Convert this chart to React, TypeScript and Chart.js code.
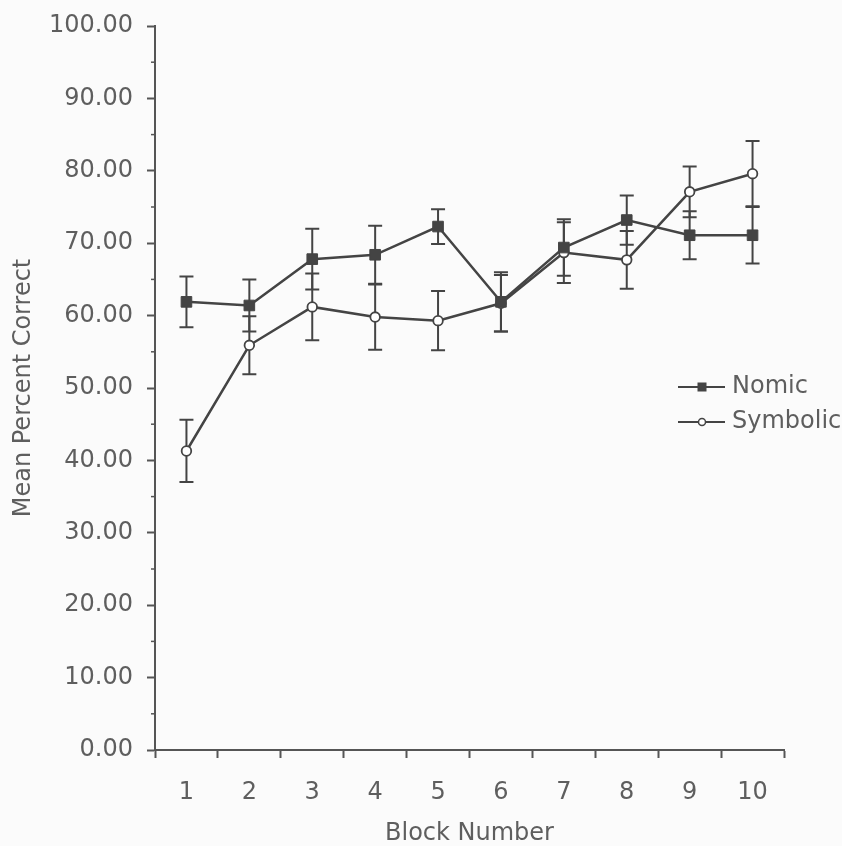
import React, { useEffect, useRef } from 'react';
import { Chart, registerables } from 'chart.js';

Chart.register(...registerables);

// ---- data ----
const blocks = ['1', '2', '3', '4', '5', '6', '7', '8', '9', '10'];
const nomicMeans = [61.9, 61.4, 67.8, 68.4, 72.3, 61.9, 69.4, 73.2, 71.1, 71.1];
const nomicErrors = [3.5, 3.6, 4.2, 4.0, 2.4, 4.1, 3.9, 3.4, 3.3, 3.9];
const symbolicMeans = [41.3, 55.9, 61.2, 59.8, 59.3, 61.7, 68.7, 67.7, 77.1, 79.6];
const symbolicErrors = [4.3, 4.0, 4.6, 4.5, 4.1, 3.9, 4.2, 4.0, 3.5, 4.5];
const seriesNames = ['Nomic', 'Symbolic'];
const xTitle = 'Block Number';
const yTitle = 'Mean Percent Correct';

// ---- styles ----
const FONT = '"DejaVu Sans", Verdana, sans-serif';
const TEXT = '#5e5e5e';
const INK = '#444444';
const AXIS = '#555555';
const BG = '#fbfbfb';
const FS = 24;

const bgPlugin = {
  id: 'bg',
  beforeDraw(chart: any) {
    const { ctx, width, height } = chart;
    ctx.save();
    ctx.fillStyle = BG;
    ctx.fillRect(0, 0, width, height);
    ctx.restore();
  },
};

const errorBarPlugin = {
  id: 'errorBars',
  beforeDatasetsDraw(chart: any) {
    const ctx = chart.ctx;
    const y = chart.scales.y;
    chart.data.datasets.forEach((ds: any, i: number) => {
      const meta = chart.getDatasetMeta(i);
      meta.data.forEach((pt: any, j: number) => {
        const v = ds.data[j];
        const e = ds.errors[j];
        const top = y.getPixelForValue(v + e);
        const bot = y.getPixelForValue(v - e);
        const x = pt.x;
        ctx.save();
        ctx.strokeStyle = INK;
        ctx.lineWidth = 2;
        ctx.beginPath();
        ctx.moveTo(x, top);
        ctx.lineTo(x, bot);
        ctx.moveTo(x - 7, top);
        ctx.lineTo(x + 7, top);
        ctx.moveTo(x - 7, bot);
        ctx.lineTo(x + 7, bot);
        ctx.stroke();
        ctx.restore();
      });
    });
  },
};

const minorTickPlugin = {
  id: 'minorTicks',
  afterDraw(chart: any) {
    const ctx = chart.ctx;
    const y = chart.scales.y;
    const left = chart.chartArea.left;
    ctx.save();
    ctx.strokeStyle = AXIS;
    ctx.lineWidth = 1.5;
    y.ticks.forEach((t: any) => {
      if (t.value % 10 !== 0) {
        const py = y.getPixelForValue(t.value);
        ctx.beginPath();
        ctx.moveTo(left - 4, py);
        ctx.lineTo(left, py);
        ctx.stroke();
      }
    });
    ctx.restore();
  },
};

const legendPlugin = {
  id: 'customLegend',
  afterDraw(chart: any) {
    const ctx = chart.ctx;
    const area = chart.chartArea;
    const x0 = area.right - 106;
    const y0 = (area.top + area.bottom) / 2 - 1;
    const gap = 35;
    ctx.save();
    chart.data.datasets.forEach((ds: any, i: number) => {
      const yy = y0 + i * gap;
      ctx.strokeStyle = INK;
      ctx.lineWidth = 2;
      ctx.beginPath();
      ctx.moveTo(x0, yy);
      ctx.lineTo(x0 + 47, yy);
      ctx.stroke();
      const cx = x0 + 24;
      if (ds.pointStyle === 'rect') {
        ctx.fillStyle = INK;
        ctx.fillRect(cx - 4.5, yy - 4.5, 9, 9);
      } else {
        ctx.beginPath();
        ctx.arc(cx, yy, 3.5, 0, Math.PI * 2);
        ctx.fillStyle = '#ffffff';
        ctx.fill();
        ctx.lineWidth = 1.5;
        ctx.stroke();
      }
      ctx.fillStyle = TEXT;
      ctx.font = `${FS}px ${FONT}`;
      ctx.textBaseline = 'middle';
      ctx.textAlign = 'left';
      ctx.fillText(ds.label, x0 + 54, yy);
    });
    ctx.restore();
  },
};

export default function App() {
  const canvasRef = useRef<HTMLCanvasElement | null>(null);

  useEffect(() => {
    document.body.style.margin = '0';
    document.body.style.overflow = 'hidden';
    const canvas = canvasRef.current;
    if (!canvas) return;
    const chart = new Chart(canvas, {
      type: 'line',
      data: {
        labels: blocks,
        datasets: [
          {
            label: seriesNames[0],
            data: nomicMeans,
            errors: nomicErrors,
            borderColor: INK,
            borderWidth: 2.5,
            backgroundColor: INK,
            pointStyle: 'rect',
            pointRadius: 7.5,
            pointBorderColor: INK,
            pointBackgroundColor: INK,
            pointBorderWidth: 1,
            tension: 0,
          } as any,
          {
            label: seriesNames[1],
            data: symbolicMeans,
            errors: symbolicErrors,
            borderColor: INK,
            borderWidth: 2.5,
            backgroundColor: '#ffffff',
            pointStyle: 'circle',
            pointRadius: 4.8,
            pointBorderColor: INK,
            pointBackgroundColor: '#ffffff',
            pointBorderWidth: 1.8,
            tension: 0,
          } as any,
        ],
      },
      options: {
        responsive: false,
        animation: false,
        devicePixelRatio: 1,
        layout: { padding: { left: 0, top: 25, right: 58, bottom: 0 } },
        plugins: {
          legend: { display: false },
          tooltip: { enabled: false },
        },
        scales: {
          x: {
            type: 'category',
            offset: true,
            grid: {
              offset: true,
              drawOnChartArea: false,
              drawTicks: true,
              tickLength: 8,
              tickColor: AXIS,
              tickWidth: 2,
            },
            border: { display: true, color: AXIS, width: 2 },
            ticks: {
              color: TEXT,
              font: { family: FONT, size: FS },
              padding: 20,
              maxRotation: 0,
              autoSkip: false,
            },
            title: {
              display: true,
              text: xTitle,
              color: TEXT,
              font: { family: FONT, size: FS, lineHeight: 1 },
              padding: { top: 0, bottom: 0 },
            },
            afterFit(scale: any) {
              scale.height = 96;
            },
          },
          y: {
            min: 0,
            max: 100,
            ticks: {
              stepSize: 5,
              autoSkip: false,
              color: TEXT,
              font: { family: FONT, size: FS, lineHeight: 1 },
              padding: 14,
              callback: (v: any) => (Number(v) % 10 === 0 ? Number(v).toFixed(2) : ''),
            },
            grid: {
              drawOnChartArea: false,
              drawTicks: true,
              tickLength: 8,
              tickWidth: 2,
              tickColor: (c: any) => (c.tick && c.tick.value % 10 === 0 ? AXIS : 'rgba(0,0,0,0)'),
            },
            border: { display: true, color: AXIS, width: 2 },
            title: {
              display: true,
              text: yTitle,
              color: TEXT,
              font: { family: FONT, size: FS, lineHeight: 1 },
              padding: { top: 12, bottom: 0 },
            },
            afterFit(scale: any) {
              scale.width = 155;
            },
          },
        },
      } as any,
      plugins: [bgPlugin, errorBarPlugin, minorTickPlugin, legendPlugin],
    });
    return () => chart.destroy();
  }, []);

  return (
    <div style={{ width: 842, height: 846 }}>
      <canvas ref={canvasRef} width={842} height={846} style={{ display: 'block' }} />
    </div>
  );
}
